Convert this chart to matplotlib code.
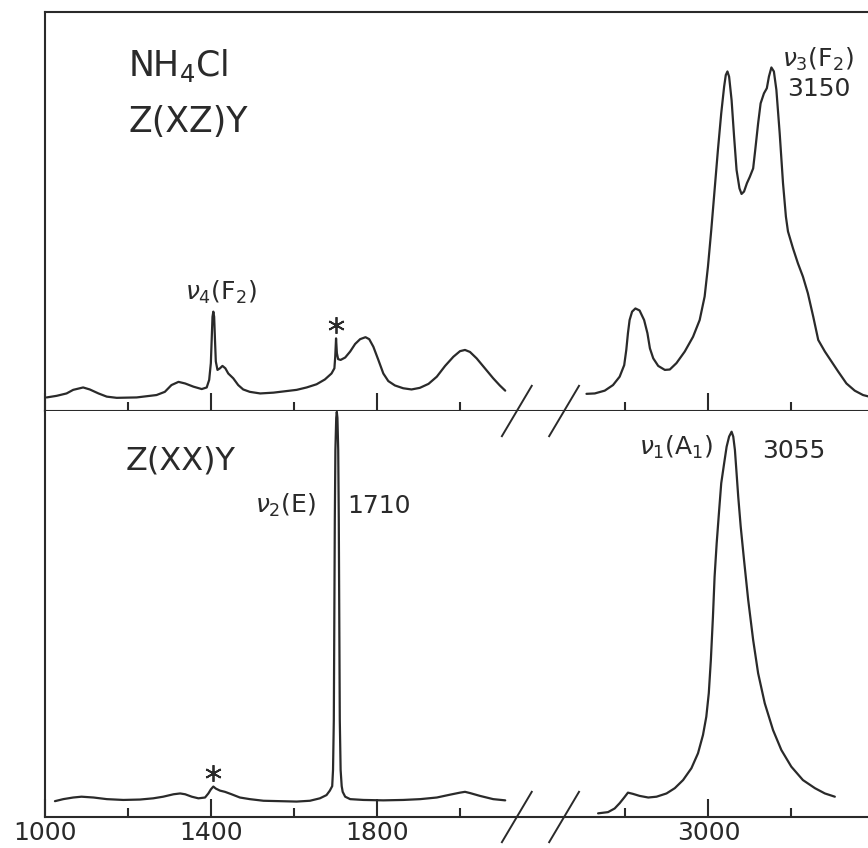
import matplotlib
matplotlib.use("Agg")
import matplotlib.pyplot as plt
from matplotlib.ticker import FixedLocator, FixedFormatter, NullLocator
import numpy as np

# NH4Cl Raman spectra, two polarisations, broken wavenumber axis
BREAK_SHIFT = 400  # wavenumbers removed from the axis between 2150 and 2700

# Z(XZ)Y, low-frequency part
xz_low_wn = [1004, 1028, 1052, 1068, 1092, 1108, 1129, 1149, 1173, 1221, 1269, 1289,
             1305, 1322, 1338, 1358, 1378, 1390, 1396, 1400, 1402, 1404, 1406, 1408,
             1410, 1412, 1416, 1422, 1428, 1435, 1442, 1454, 1466, 1478, 1494, 1519,
             1551, 1575, 1607, 1631, 1655, 1675, 1691, 1698, 1700, 1702, 1704, 1707,
             1713, 1724, 1736, 1748, 1760, 1773, 1782, 1792, 1804, 1816, 1828, 1844,
             1864, 1884, 1904, 1925, 1945, 1965, 1985, 2001, 2013, 2025, 2041, 2061,
             2081, 2097, 2110]
xz_low_int = [3.4, 3.8, 4.4, 5.3, 5.9, 5.4, 4.4, 3.6, 3.3, 3.4, 4.0, 4.8,
              6.5, 7.3, 6.9, 6.1, 5.5, 5.9, 7.8, 12.0, 17.8, 23.6, 24.9, 23.6,
              17.8, 12.4, 10.3, 10.7, 11.3, 10.7, 9.4, 8.2, 6.5, 5.4, 4.8, 4.4,
              4.6, 4.9, 5.3, 5.9, 6.7, 7.9, 9.4, 10.7, 13.6, 18.2, 14.5, 13.0,
              12.8, 13.4, 14.9, 16.8, 18.0, 18.5, 18.0, 16.1, 12.8, 9.4, 7.5, 6.4,
              5.7, 5.4, 5.8, 6.8, 8.6, 11.3, 13.6, 15.0, 15.3, 14.8, 13.2, 10.7,
              8.2, 6.4, 5.1]

# Z(XZ)Y, N-H stretching region
xz_high_wn = [2706, 2726, 2750, 2770, 2786, 2797, 2802, 2806, 2810, 2816, 2824, 2834,
              2845, 2853, 2859, 2867, 2879, 2895, 2907, 2923, 2943, 2963, 2979, 2991,
              2999, 3007, 3015, 3023, 3031, 3038, 3042, 3046, 3050, 3056, 3062, 3068,
              3075, 3080, 3086, 3093, 3100, 3108, 3113, 3120, 3126, 3134, 3141, 3146,
              3152, 3158, 3164, 3172, 3180, 3187, 3192, 3204, 3216, 3228, 3240, 3253,
              3265, 3281, 3297, 3313, 3333, 3353, 3373, 3388]
xz_high_int = [4.3, 4.4, 5.1, 6.5, 8.6, 11.5, 15.3, 19.5, 22.8, 24.9, 25.7, 25.2,
               22.8, 19.5, 15.7, 13.2, 11.3, 10.3, 10.4, 12.0, 14.9, 18.6, 22.8, 28.7,
               36.2, 45.4, 55.4, 65.4, 74.6, 81.3, 84.2, 85.1, 83.8, 77.9, 68.8, 60.4,
               55.8, 54.4, 55.0, 57.1, 58.7, 60.8, 65.4, 72.1, 77.1, 79.6, 80.9, 83.8,
               86.1, 85.1, 80.5, 69.6, 57.1, 48.7, 45.0, 40.8, 37.0, 33.7, 29.5, 23.6,
               17.8, 14.9, 12.4, 9.9, 6.9, 5.1, 4.0, 3.6]

# Z(XX)Y, low-frequency part
xx_low_wn = [1024, 1044, 1068, 1088, 1117, 1149, 1189, 1229, 1261, 1285, 1310, 1326,
             1338, 1354, 1370, 1386, 1394, 1400, 1406, 1412, 1422, 1434, 1450, 1470,
             1494, 1527, 1567, 1607, 1639, 1663, 1679, 1687, 1692.7, 1694.7, 1696.6,
             1697.8, 1699.0, 1700.4, 1702.4, 1703.8, 1705.3, 1707.2, 1708.6, 1709.8,
             1711.0, 1713.0, 1715.6, 1718, 1724, 1736, 1768, 1816, 1864, 1905, 1945,
             1977, 2001, 2013, 2025, 2049, 2081, 2110]
xx_low_int = [3.9, 4.4, 4.8, 5.0, 4.8, 4.4, 4.2, 4.3, 4.6, 5.0, 5.6, 5.8,
              5.6, 5.0, 4.6, 4.8, 5.8, 6.8, 7.5, 7.0, 6.5, 6.2, 5.6, 4.8,
              4.4, 4.0, 3.9, 3.8, 4.0, 4.6, 5.4, 6.5, 7.6, 11.6, 23.9,
              48.5, 73.2, 90.4, 98.3, 99.8, 98.3, 90.4, 73.2, 48.5,
              23.9, 11.6, 7.6, 6.2, 5.0, 4.4, 4.2, 4.1, 4.2, 4.4, 4.8,
              5.5, 6.0, 6.2, 5.9, 5.2, 4.4, 4.1]

# Z(XX)Y, N-H stretching region
xx_high_wn = [2734, 2758, 2774, 2786, 2797, 2806, 2818, 2834, 2855, 2875, 2899, 2919,
              2939, 2959, 2975, 2987, 2995, 3001, 3006, 3011, 3015, 3020, 3026, 3031,
              3038, 3044, 3050, 3056, 3060, 3064, 3068, 3072, 3078, 3086, 3096, 3108,
              3120, 3136, 3156, 3176, 3200, 3228, 3257, 3281, 3305]
xx_high_int = [0.9, 1.2, 2.1, 3.4, 4.8, 6.0, 5.7, 5.2, 4.8, 5.0, 5.8, 7.1,
               9.1, 12.0, 15.7, 20.2, 24.7, 30.5, 38.7, 49.3, 59.2, 67.4, 75.6, 82.2,
               87.1, 91.2, 93.7, 94.9, 93.7, 90.4, 84.7, 78.9, 71.5, 63.3, 53.5, 43.6,
               35.4, 28.0, 21.4, 16.5, 12.4, 9.1, 7.1, 5.8, 5.0]

minor_ticks = [1200, 1600, 2000, 2800, 3200]
major_ticks = [1000, 1400, 1800, 3000]
major_labels = ["1000", "1400", "1800", "3000"]

INK = "#2a2a2a"
W, H = 868, 848


def to_plot(wn):
    wn = np.asarray(wn, dtype=float)
    return np.where(wn > 2400, wn - BREAK_SHIFT, wn)


def fpos(x, y):
    return x / W, 1 - y / H


def style_axes(ax, labels):
    ax.set_xlim(1000, 2985)
    ax.set_ylim(0, 100)
    for side in ["left", "top", "bottom"]:
        ax.spines[side].set_linewidth(1.5)
        ax.spines[side].set_color(INK)
    ax.spines["right"].set_visible(False)
    ax.yaxis.set_major_locator(NullLocator())
    ax.xaxis.set_major_locator(FixedLocator(to_plot(major_ticks)))
    ax.xaxis.set_minor_locator(FixedLocator(to_plot(minor_ticks)))
    ax.tick_params(axis="x", which="major", direction="in", length=13, width=1.5,
                   color=INK, labelsize=18, labelcolor=INK, pad=3)
    ax.tick_params(axis="x", which="minor", direction="in", length=6.5, width=1.5,
                   color=INK)
    if labels:
        ax.xaxis.set_major_formatter(FixedFormatter(major_labels))
    else:
        ax.tick_params(axis="x", which="major", labelbottom=False)


def draw_break(ax, y):
    tr = ax.get_xaxis_transform()
    for xc in (2138, 2252):
        ax.plot([xc - 36, xc + 36], [y - 0.062, y + 0.062], color=INK, lw=1.4,
                transform=tr, clip_on=False)


fig = plt.figure(figsize=(W / 100, H / 100), dpi=100)
left, width = 45 / W, 823 / W
ax_top = fig.add_axes([left, 1 - 411 / H, width, 399 / H])
ax_bot = fig.add_axes([left, 1 - 817 / H, width, 406 / H])

line = dict(color=INK, lw=1.6, solid_joinstyle="round", solid_capstyle="round")
ax_top.plot(to_plot(xz_low_wn), xz_low_int, **line)
ax_top.plot(to_plot(xz_high_wn), xz_high_int, **line)
ax_bot.plot(to_plot(xx_low_wn), xx_low_int, **line)
ax_bot.plot(to_plot(xx_high_wn), xx_high_int, **line)

style_axes(ax_top, labels=False)
style_axes(ax_bot, labels=True)
ax_bot.spines["top"].set_visible(False)

draw_break(ax_bot, 0.0)
draw_break(ax_bot, 1.0)

# asterisks over the spurious lines
ax_top.plot(to_plot([1702]), [21.6], marker=(6, 2, 0), ms=12, mew=1.3, color=INK)
ax_bot.plot(to_plot([1405]), [10.8], marker=(6, 2, 0), ms=12, mew=1.3, color=INK)

txt = dict(color=INK, va="baseline", ha="left")
fig.text(*fpos(128, 76), r"NH$_4$Cl", fontsize=25, **txt)
fig.text(*fpos(128, 132), "Z(XZ)Y", fontsize=25, **txt)
fig.text(*fpos(126, 470), "Z(XX)Y", fontsize=23, **txt)
fig.text(*fpos(185, 300), r"$\nu_4$(F$_2$)", fontsize=18, **txt)
fig.text(*fpos(782, 67), r"$\nu_3$(F$_2$)", fontsize=18, **txt)
fig.text(*fpos(787, 96), "3150", fontsize=18, **txt)
fig.text(*fpos(255, 513), r"$\nu_2$(E)", fontsize=18, **txt)
fig.text(*fpos(347, 513), "1710", fontsize=18, **txt)
fig.text(*fpos(639, 455), r"$\nu_1$(A$_1$)", fontsize=18, **txt)
fig.text(*fpos(762, 458), "3055", fontsize=18, **txt)

fig.savefig("out.png", dpi=100)
